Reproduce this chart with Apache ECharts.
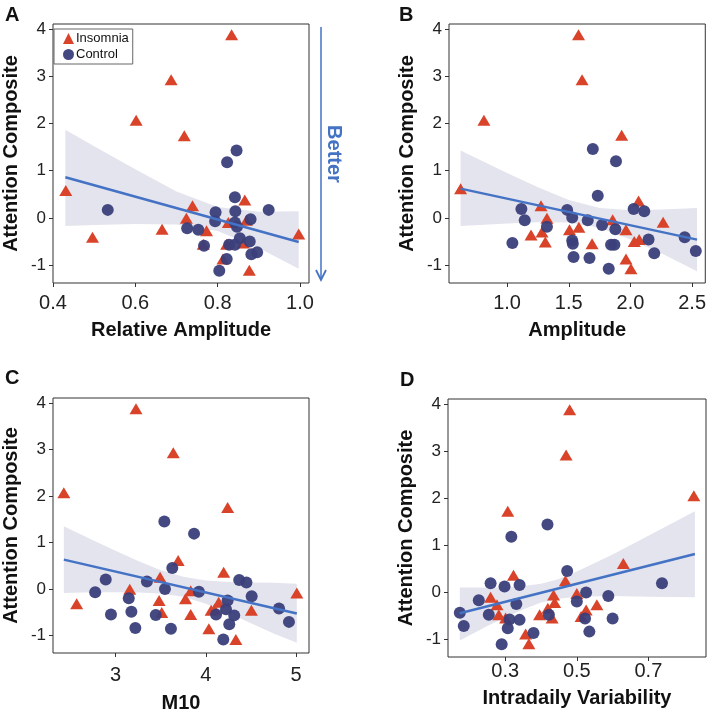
<!DOCTYPE html>
<html>
<head>
<meta charset="utf-8">
<script src="https://cdn.jsdelivr.net/npm/echarts@6/dist/echarts.min.js"></script>
<style>
html, body { margin: 0; padding: 0; background: #fff; }
#main { width: 709px; height: 714px; }
</style>
</head>
<body>
<div id="main"></div>
<script>
// ---- data ----
var yTicks = [-1, 0, 1, 2, 3, 4];

// A: Relative Amplitude
var aTicks = [0.4, 0.6, 0.8, 1.0];
var aInsomnia = [[0.834,3.88],[0.687,2.93],[0.602,2.07],[0.719,1.74],[0.431,0.58],[0.496,-0.41],[0.665,-0.24],[0.724,-0.01],[0.739,0.26],[0.773,-0.27],[0.765,-0.56],[0.826,-0.10],[0.822,-0.56],[0.813,-0.87],[0.866,0.38],[0.870,-0.05],[0.862,-0.53],[0.877,-1.11],[0.997,-0.34]];
var aControl = [[0.533,0.17],[0.846,1.43],[0.823,1.18],[0.842,0.44],[0.843,0.14],[0.795,0.12],[0.794,-0.07],[0.726,-0.22],[0.753,-0.25],[0.842,-0.10],[0.847,-0.19],[0.880,-0.03],[0.924,0.17],[0.767,-0.59],[0.828,-0.57],[0.842,-0.57],[0.854,-0.43],[0.878,-0.50],[0.882,-0.77],[0.896,-0.73],[0.822,-0.87],[0.804,-1.12]];
var aFit = [[0.43,0.86],[0.997,-0.51]];
var aBandX = [0.43, 0.5, 0.6, 0.7, 0.8, 0.9, 0.997];
var aBandLow = [-0.17, -0.15, -0.13, -0.14, -0.28, -0.64, -1.08];
var aBandHigh = [1.87, 1.52, 1.03, 0.56, 0.23, 0.13, 0.14];

// B: Amplitude
var bTicks = [1.0, 1.5, 2.0, 2.5];
var bInsomnia = [[1.579,3.88],[1.608,2.93],[0.812,2.07],[1.929,1.75],[0.623,0.62],[1.275,0.26],[1.323,-0.01],[1.194,-0.36],[1.283,-0.30],[1.310,-0.51],[1.506,-0.25],[1.582,-0.20],[1.689,-0.55],[1.856,-0.04],[1.964,-0.25],[2.066,0.36],[2.265,-0.09],[2.031,-0.50],[2.071,-0.46],[1.964,-0.87],[2.004,-1.08]];
var bControl = [[1.695,1.46],[1.883,1.20],[1.735,0.47],[1.116,0.19],[1.143,-0.05],[1.323,-0.19],[1.043,-0.53],[1.487,0.17],[1.528,0.01],[1.654,-0.05],[1.770,-0.15],[1.878,-0.24],[1.528,-0.48],[1.533,-0.55],[1.539,-0.83],[1.668,-0.85],[1.843,-0.57],[1.870,-0.57],[1.824,-1.08],[2.026,0.19],[2.112,0.14],[2.147,-0.46],[2.193,-0.75],[2.44,-0.41],[2.53,-0.70]];
var bFit = [[0.623,0.62],[2.54,-0.46]];
var bBandX = [0.623, 1.0, 1.25, 1.5, 1.75, 2.0, 2.25, 2.54];
var bBandLow = [-0.17, -0.12, -0.09, -0.10, -0.21, -0.46, -0.75, -1.13];
var bBandHigh = [1.43, 0.95, 0.65, 0.38, 0.21, 0.16, 0.18, 0.21];

// C: M10
var cTicks = [3, 4, 5];
var cInsomnia = [[3.226,3.88],[3.639,2.93],[2.427,2.07],[4.241,1.75],[2.569,-0.32],[3.693,0.61],[4.197,0.36],[3.493,0.25],[3.157,-0.01],[3.482,-0.25],[3.511,-0.51],[3.774,-0.21],[3.832,-0.04],[3.832,-0.55],[4.033,-0.86],[4.058,-0.46],[4.095,-0.44],[4.142,-0.29],[4.332,-1.09],[4.504,-0.46],[5.007,-0.09]];
var cControl = [[3.540,1.45],[3.869,1.19],[3.628,0.45],[2.774,-0.07],[2.891,0.20],[3.146,-0.20],[3.175,-0.49],[3.219,-0.84],[2.949,-0.55],[3.347,0.16],[3.445,-0.56],[3.547,0.00],[3.613,-0.86],[3.923,-0.06],[4.241,-0.25],[4.113,-0.55],[4.223,-0.44],[4.314,-0.57],[4.259,-0.76],[4.193,-1.09],[4.369,0.19],[4.449,0.14],[4.507,-0.16],[4.810,-0.42],[4.920,-0.71]];
var cFit = [[2.427,0.63],[5.007,-0.53]];
var cBandX = [2.427, 2.75, 3.0, 3.25, 3.5, 3.75, 4.0, 4.25, 4.5, 4.75, 5.007];
var cBandLow = [-0.09, -0.07, -0.07, -0.08, -0.10, -0.17, -0.32, -0.52, -0.74, -0.96, -1.16];
var cBandHigh = [1.35, 1.05, 0.82, 0.60, 0.40, 0.26, 0.18, 0.15, 0.14, 0.13, 0.11];

// D: Intradaily Variability
var dTicks = [0.3, 0.5, 0.7];
var dInsomnia = [[0.480,3.88],[0.470,2.92],[0.827,2.05],[0.307,1.72],[0.630,0.61],[0.323,0.36],[0.468,0.24],[0.259,-0.11],[0.277,-0.27],[0.282,-0.48],[0.301,-0.55],[0.435,-0.06],[0.438,-0.22],[0.500,-0.03],[0.396,-0.48],[0.419,-0.34],[0.431,-0.55],[0.526,-0.38],[0.512,-0.52],[0.556,-0.27],[0.357,-0.89],[0.366,-1.10]];
var dControl = [[0.418,1.44],[0.317,1.18],[0.473,0.45],[0.259,0.19],[0.298,0.12],[0.340,0.15],[0.226,-0.17],[0.331,-0.25],[0.173,-0.44],[0.184,-0.72],[0.254,-0.48],[0.312,-0.58],[0.340,-0.59],[0.307,-0.77],[0.290,-1.11],[0.379,-0.87],[0.422,-0.48],[0.526,-0.01],[0.500,-0.20],[0.588,-0.08],[0.523,-0.56],[0.535,-0.84],[0.600,-0.56],[0.738,0.19]];
var dFit = [[0.173,-0.45],[0.830,0.81]];
var dBandX = [0.173, 0.25, 0.3, 0.35, 0.4, 0.45, 0.5, 0.6, 0.7, 0.830];
var dBandLow = [-1.03, -0.72, -0.54, -0.37, -0.22, -0.14, -0.10, -0.08, -0.10, -0.11];
var dBandHigh = [0.10, 0.10, 0.10, 0.13, 0.18, 0.28, 0.44, 0.80, 1.20, 1.72];

// ---- layout / style ----
var FONT = 'Liberation Sans, Arial, sans-serif';
var RED = '#d8432a', NAVY = '#3b3f7a', BLUE = '#4472c4', BAND = '#e4e4ee';

var panels = [
	{ letter: 'A', name: 'Relative Amplitude', grid: [51, 24, 258, 259], xr: [0.40, 1.022], ticks: aTicks, dec: 1, nameGap: 37, margin: 10,
	  ins: aInsomnia, ctl: aControl, fit: aFit, bx: aBandX, bl: aBandLow, bh: aBandHigh },
	{ letter: 'B', name: 'Amplitude', grid: [449, 24, 257, 259], xr: [0.529, 2.607], ticks: bTicks, dec: 1, nameGap: 37, margin: 10,
	  ins: bInsomnia, ctl: bControl, fit: bFit, bx: bBandX, bl: bBandLow, bh: bBandHigh },
	{ letter: 'C', name: 'M10', grid: [50, 398, 259, 258], xr: [2.307, 5.142], ticks: cTicks, dec: 0, nameGap: 40, margin: 12,
	  ins: cInsomnia, ctl: cControl, fit: cFit, bx: cBandX, bl: cBandLow, bh: cBandHigh },
	{ letter: 'D', name: 'Intradaily Variability', grid: [448, 399, 258, 258], xr: [0.14, 0.861], ticks: dTicks, dec: 1, nameGap: 31, margin: 4,
	  ins: dInsomnia, ctl: dControl, fit: dFit, bx: dBandX, bl: dBandLow, bh: dBandHigh }
];

function zip(xs, ys) {
	var out = [];
	for (var i = 0; i < xs.length; i++) out.push([xs[i], ys[i]]);
	return out;
}

// confidence band drawn as one polygon through the axis scales
function bandRenderer(p) {
	return function (params, api) {
		if (params.dataIndex !== 0) return;
		var pts = [];
		for (var k = 0; k < p.bx.length; k++) pts.push(api.coord([p.bx[k], p.bh[k]]));
		for (var k = p.bx.length - 1; k >= 0; k--) pts.push(api.coord([p.bx[k], p.bl[k]]));
		return { type: 'polygon', shape: { points: pts }, style: { fill: BAND } };
	};
}

var grids = [], xAxes = [], yAxes = [], series = [];

for (var i = 0; i < panels.length; i++) {
	var p = panels[i];
	grids.push({
		left: p.grid[0], top: p.grid[1], width: p.grid[2], height: p.grid[3],
		show: true, borderColor: '#333', borderWidth: 1, containLabel: false
	});
	(function (dec) {
		xAxes.push({
			gridIndex: i, type: 'value', min: p.xr[0], max: p.xr[1],
			name: p.name, nameLocation: 'middle', nameGap: p.nameGap,
			nameTextStyle: { fontSize: 20, fontWeight: 'bold', color: '#111', fontFamily: FONT },
			axisLine: { show: false, onZero: false }, splitLine: { show: false },
			axisTick: { show: true, length: 4, customValues: p.ticks, lineStyle: { color: '#333' } },
			axisLabel: { customValues: p.ticks, fontSize: 20, margin: p.margin, color: '#222', fontFamily: FONT,
				formatter: function (v) { return v.toFixed(dec); } }
		});
	})(p.dec);
	yAxes.push({
		gridIndex: i, type: 'value', min: -1.38, max: 4.11,
		name: 'Attention Composite', nameLocation: 'middle', nameGap: 32, nameRotate: 90,
		nameTextStyle: { fontSize: 20, fontWeight: 'bold', color: '#111', fontFamily: FONT },
		axisLine: { show: false, onZero: false }, splitLine: { show: false },
		axisTick: { show: true, length: 4, customValues: yTicks, lineStyle: { color: '#333' } },
		axisLabel: { customValues: yTicks, fontSize: 17, margin: 7, color: '#222', fontFamily: FONT }
	});

	series.push({
		type: 'custom', xAxisIndex: i, yAxisIndex: i, data: zip(p.bx, p.bl),
		renderItem: bandRenderer(p), silent: true, z: 1
	});
	series.push({
		name: 'Insomnia', type: 'scatter', xAxisIndex: i, yAxisIndex: i, data: p.ins,
		symbol: 'triangle', symbolSize: [13, 11], itemStyle: { color: RED, opacity: 1 }, z: 3
	});
	series.push({
		name: 'Control', type: 'scatter', xAxisIndex: i, yAxisIndex: i, data: p.ctl,
		symbol: 'circle', symbolSize: 12, itemStyle: { color: NAVY, opacity: 0.95 }, z: 3
	});
	series.push({
		type: 'line', xAxisIndex: i, yAxisIndex: i, data: p.fit, symbol: 'none',
		lineStyle: { color: BLUE, width: 2.5 }, z: 4
	});
}

var letterPos = [[5, 5], [399, 5], [5, 368], [400, 370]];
var graphics = [];
for (var j = 0; j < letterPos.length; j++) {
	graphics.push({
		type: 'text', left: letterPos[j][0], top: letterPos[j][1],
		style: { text: panels[j].letter, font: 'bold 20px ' + FONT, fill: '#111' }
	});
}
// "Better" arrow beside panel A
graphics.push({ type: 'line', shape: { x1: 321, y1: 27, x2: 321, y2: 279 }, style: { stroke: BLUE, lineWidth: 1.5 } });
graphics.push({ type: 'polyline', shape: { points: [[316, 270], [321, 280], [326, 270]] }, style: { stroke: BLUE, lineWidth: 1.8, fill: null } });
graphics.push({
	type: 'text', x: 334, y: 154, rotation: -Math.PI / 2,
	style: { text: 'Better', font: 'bold 20px ' + FONT, fill: BLUE, align: 'center', verticalAlign: 'middle' }
});

var chart = echarts.init(document.getElementById('main'));
chart.setOption({
	animation: false,
	backgroundColor: '#fff',
	legend: {
		data: ['Insomnia', 'Control'], orient: 'vertical', left: 54, top: 29,
		itemWidth: 11, itemHeight: 11, itemGap: 3, padding: [3, 4, 3, 9],
		borderColor: '#666', borderWidth: 1, backgroundColor: '#fff',
		textStyle: { fontSize: 13, color: '#111', fontFamily: FONT, padding: [0, 0, 0, -3] }
	},
	grid: grids,
	xAxis: xAxes,
	yAxis: yAxes,
	series: series,
	graphic: graphics
});
</script>
</body>
</html>
